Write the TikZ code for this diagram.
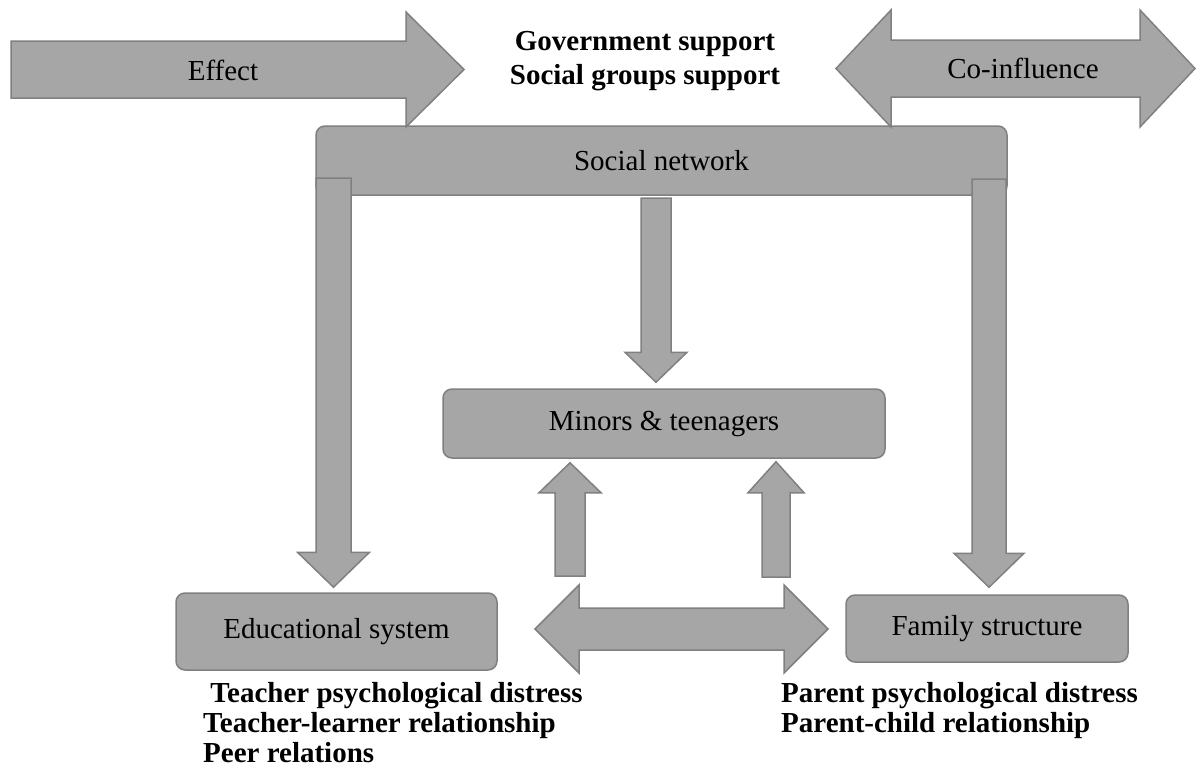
\documentclass[tikz,border=0pt]{standalone}
\usepackage{fontspec}
\setmainfont{Liberation Serif}
\usetikzlibrary{calc}

\definecolor{fillgray}{HTML}{A6A6A6}
\definecolor{edgegray}{HTML}{808080}

\tikzset{
  blockarrow/.style={fill=fillgray,draw=edgegray,line width=1.5pt,line join=miter},
  netbox/.style={fill=fillgray,draw=edgegray,line width=1.5pt,rounded corners=9pt,
    inner sep=0pt,font=\fontsize{29}{30}\selectfont},
  plainlabel/.style={inner sep=0pt,font=\fontsize{29}{30}\selectfont},
  factors/.style={inner sep=0pt,align=left,font=\fontsize{29}{30}\selectfont\bfseries},
}

% fat arrow: tail, tip, half shaft, half head, head length
\newcommand{\fatarrow}[5]{%
  \coordinate (fa-back) at ($(#2)!#5!(#1)$);
  \draw[blockarrow] ($(#1)!#3!90:(#2)$) -- ($(fa-back)!#3!90:(#2)$)
    -- ($(fa-back)!#4!90:(#2)$) -- (#2) -- ($(fa-back)!#4!-90:(#2)$)
    -- ($(fa-back)!#3!-90:(#2)$) -- ($(#1)!#3!-90:(#2)$) -- cycle;}
% same with a head at both ends
\newcommand{\fatdarrow}[5]{%
  \coordinate (fa-a) at ($(#1)!#5!(#2)$);
  \coordinate (fa-b) at ($(#2)!#5!(#1)$);
  \draw[blockarrow] (#1) -- ($(fa-a)!#4!90:(#2)$) -- ($(fa-a)!#3!90:(#2)$)
    -- ($(fa-b)!#3!90:(#2)$) -- ($(fa-b)!#4!90:(#2)$) -- (#2)
    -- ($(fa-b)!#4!-90:(#2)$) -- ($(fa-b)!#3!-90:(#2)$)
    -- ($(fa-a)!#3!-90:(#2)$) -- ($(fa-a)!#4!-90:(#2)$) -- cycle;}

\begin{document}
\begin{tikzpicture}[x=1pt,y=-1pt]
  \useasboundingbox (0,0) rectangle (1197,774);

  \node[netbox,minimum width=691pt,minimum height=69pt] (net) at (661.5,160.5) {Social network};

  % arrows out of the social network
  \coordinate (net-l) at (333.5,178);
  \coordinate (net-r) at (989,179);
  \coordinate (net-c) at (656,198);
  \node[netbox,minimum width=321pt,minimum height=77pt] (edu) at (336.5,631.5) {Educational system};
  \node[netbox,minimum width=282pt,minimum height=67pt] (fam) at (987,628.5) {Family structure};
  \node[netbox,minimum width=442pt,minimum height=69pt] (minor) at (664,423.5) {Minors \& teenagers};
  \coordinate (edu-in) at (net-l |- edu.north);
  \coordinate (fam-in) at (net-r |- fam.north);
  \coordinate (minor-in) at (net-c |- minor.north);
  \fatarrow{net-l}{$(edu-in)+(0,-5)$}{17.5pt}{36pt}{35pt}
  \fatarrow{net-r}{$(fam-in)+(0,-7)$}{17pt}{35pt}{34pt}
  \fatarrow{net-c}{$(minor-in)+(0,-6)$}{15pt}{31pt}{30pt}

  % school and family act on the minors
  \coordinate (up-l) at (570,576);
  \coordinate (up-r) at (776,577);
  \fatarrow{up-l}{$(up-l |- minor.south)+(0,4)$}{15pt}{31pt}{30pt}
  \fatarrow{up-r}{$(up-r |- minor.south)+(0,3)$}{14pt}{28pt}{31pt}
  \coordinate (edu-out) at (535,629);
  \coordinate (fam-out) at (828,629);
  \fatdarrow{edu-out}{fam-out}{21pt}{44pt}{44pt}

  % legend arrows
  \coordinate (eff-a) at (11,69.5);
  \coordinate (eff-b) at (464,69.5);
  \fatarrow{eff-a}{eff-b}{28.5pt}{57.5pt}{58pt}
  \node[plainlabel] (effect) at (223,70) {Effect};
  \coordinate (co-a) at (836,68.5);
  \coordinate (co-b) at (1195,68.5);
  \fatdarrow{co-a}{co-b}{28.5pt}{58.5pt}{55pt}
  \node[plainlabel] (coinf) at (1023,68) {Co-influence};

  \node[factors,align=center,font=\fontsize{29}{34}\selectfont\bfseries] (support) at (645,61)
    {Government support\\Social groups support};
  \node[factors,anchor=west] (school) at (203,723)
    {\ Teacher psychological distress\\Teacher-learner relationship\\Peer relations};
  \node[factors,anchor=west] (home) at (781,711)
    {Parent psychological distress\\Parent-child relationship};
\end{tikzpicture}
\end{document}
